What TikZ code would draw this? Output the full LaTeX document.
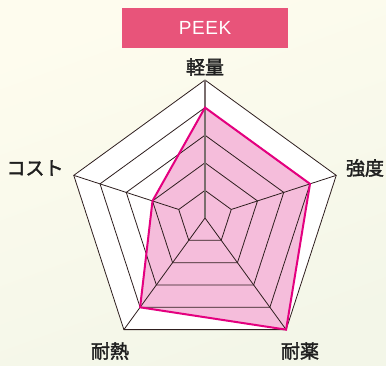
\documentclass[tikz,border=0pt]{standalone}
\usepackage{fontspec}
\newfontfamily\jp[FakeBold=2]{Noto Sans CJK JP}
\newfontfamily\ttl[LetterSpace=3]{Liberation Sans}
\definecolor{bgA}{HTML}{FEFCEE}
\definecolor{bgB}{HTML}{F3F6E8}
\definecolor{titlepink}{HTML}{E8547A}
\definecolor{datafill}{HTML}{F5BDDB}
\definecolor{dataline}{HTML}{E4007F}
\definecolor{gridline}{HTML}{2E1E1E}
\definecolor{axisgray}{HTML}{7A6E6E}
\tikzset{
  titlebox/.style={fill=titlepink, minimum width=166.6pt, minimum height=40pt, inner sep=0pt, text=white, font=\ttl\fontsize{19}{19}\selectfont},
  axlabel/.style={font=\jp\fontsize{19}{19}\selectfont, text=black!88, inner sep=0pt},
  ring/.style={draw=gridline, line width=0.8pt, line join=miter},
  axisline/.style={draw=gridline, line width=0.8pt},
  topaxis/.style={draw=axisgray, line width=1.3pt},
  datapoly/.style={draw=dataline, line width=2pt, line join=miter},
}
\begin{document}
\begin{tikzpicture}[x=1pt,y=1pt]
\shade[top color=bgA, bottom color=bgB, shading angle=20] (0,0) rectangle (386,365);
\useasboundingbox (0,0) rectangle (386,365);
\node[titlebox] (title) at (205,336.7) {PEEK};
\begin{scope}[shift={(205,147)}]
  \def\R{138}
  % outer vertices
  \coordinate (O) at (0,0);
  \coordinate (vT) at (90:\R);
  \coordinate (vR) at (18:\R);
  \coordinate (vBR) at (-54:\R);
  \coordinate (vBL) at (-126:\R);
  \coordinate (vL) at (162:\R);
  % outer pentagon
  \filldraw[fill=white, ring] (vT) -- (vR) -- (vBR) -- (vBL) -- (vL) -- cycle;
  % data
  \coordinate (dT) at (90:0.8*\R);
  \coordinate (dR) at (18:0.8*\R);
  \coordinate (dBR) at (-54:\R);
  \coordinate (dBL) at (-126:0.8*\R);
  \coordinate (dL) at (162:0.4*\R);
  \fill[datafill] (dT) -- (dR) -- (dBR) -- (dBL) -- (dL) -- cycle;
  % rings
  \foreach \f in {0.2,0.4,0.6,0.8}{
    \draw[ring] (90:\f*\R) -- (18:\f*\R) -- (-54:\f*\R) -- (-126:\f*\R) -- (162:\f*\R) -- cycle;
  }
  % axes
  \draw[axisline] (O) -- (vBR);
  \draw[axisline] (O) -- (vBL);
  \draw[axisline] (18:0.2*\R) -- (vR);
  \draw[axisline] (162:0.2*\R) -- (vL);
  \draw[topaxis] (O) -- (vT);
  % data outline
  \draw[datapoly] (dT) -- (dR) -- (dBR) -- (dBL) -- (dL) -- cycle;
\end{scope}
\node[axlabel] (lT) at (205,298) {軽量};
\node[axlabel] (lR) at (365,197) {強度};
\node[axlabel] (lL) at (35,197) {コスト};
\node[axlabel] (lBL) at (110,14) {耐熱};
\node[axlabel] (lBR) at (300,14) {耐薬};
\end{tikzpicture}
\end{document}
